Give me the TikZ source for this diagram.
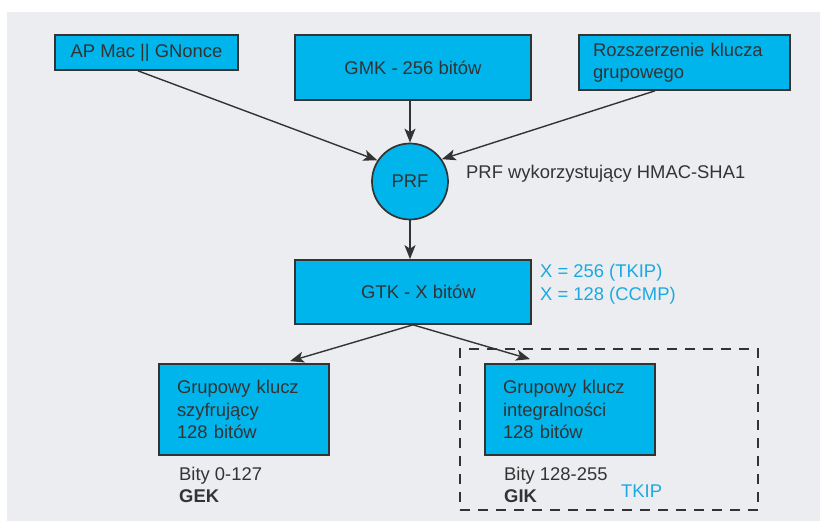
\documentclass[tikz,border=0pt]{standalone}
\usepackage{fontspec}
\setmainfont{Liberation Sans}
\usetikzlibrary{arrows.meta}

\definecolor{panel}{HTML}{ECEDF0}
\definecolor{keyfill}{HTML}{00B5EC}
\definecolor{ink}{HTML}{333333}
\definecolor{note}{HTML}{1BA9E1}

\newcommand{\diagfont}{\fontsize{18.4}{22.5}\selectfont}

\tikzset{
  keybox/.style={draw=ink, line width=1.7pt, fill=keyfill, rectangle,
    text=ink, inner sep=0pt, font=\diagfont},
  prfnode/.style={draw=ink, line width=1.7pt, fill=keyfill, circle,
    minimum size=76pt, inner sep=0pt, text=ink, font=\diagfont},
  flow/.style={draw=ink, line width=1.4pt,
    -{Stealth[length=14pt, width=11pt, inset=3.5pt]}},
  label/.style={inner sep=0pt, anchor=base west, text=ink, font=\diagfont},
  bluelabel/.style={label, text=note},
  tkipframe/.style={draw=ink, line width=1.4pt, dash pattern=on 10pt off 8pt,
    rectangle, inner sep=0pt}
}

\begin{document}
\begin{tikzpicture}[x=1pt, y=-1pt]
  \useasboundingbox (0,0) rectangle (820,521);
  \fill[panel] (7,12) rectangle (820,521);

  % input keys
  \node[keybox, minimum width=183pt, minimum height=35pt] (ap) at (146.5,52.5)
    {AP Mac || GNonce};
  \node[keybox, minimum width=236pt, minimum height=65pt] (gmk) at (413,67.5)
    {GMK - 256 bitów};
  \node[keybox, minimum width=211pt, minimum height=55pt, inner xsep=14pt,
        text width=183pt, align=left] (roz) at (684.5,62.5)
    {Rozszerzenie klucza\\grupowego};

  % pseudo-random function
  \node[prfnode] (prf) at (410,181.5) {PRF};
  \node[label] (prflbl) at (466,179) {PRF wykorzystujący HMAC-SHA1};

  % group temporal key
  \node[keybox, minimum width=236pt, minimum height=64pt] (gtk) at (413,292)
    {\hspace{11pt}GTK - X bitów};
  \node[bluelabel] (x256) at (540,278) {X = 256 (TKIP)};
  \node[bluelabel] (x128) at (540,301) {X = 128 (CCMP)};

  % TKIP frame
  \node[tkipframe, minimum width=298pt, minimum height=161pt] (tkipbox)
    at (609,429.5) {};

  % derived keys
  \node[keybox, minimum width=170pt, minimum height=91pt, inner xsep=18pt,
        text width=134pt, align=left] (gek) at (244,409.5)
    {Grupowy klucz\\szyfrujący\\128 bitów};
  \node[keybox, minimum width=170pt, minimum height=91pt, inner xsep=18pt,
        text width=134pt, align=left] (gik) at (570,409.5)
    {Grupowy klucz\\integralności\\128 bitów};

  \node[label] (gekbits) at (179,480) {Bity 0-127};
  \node[label, font=\diagfont\bfseries] (geklbl) at (179,502) {GEK};
  \node[label] (gikbits) at (504,480) {Bity 128-255};
  \node[label, font=\diagfont\bfseries] (giklbl) at (504,502) {GIK};
  \node[bluelabel] (tkiplbl) at (621,497.5) {TKIP};

  % connectors
  \draw[flow] ([xshift=-8.5pt]ap.south) -- (prf.147);
  \draw[flow] (gmk.south -| prf.north) -- (prf.north);
  \draw[flow] ([xshift=-29.5pt]roz.south) -- (prf.35);
  \draw[flow] (prf.south) -- (gtk.north -| prf.south);
  \draw[flow] (gtk.south) -- ([xshift=46pt, yshift=2pt]gek.north);
  \draw[flow] (gtk.south) -- ([xshift=-40pt, yshift=4pt]gik.north);
\end{tikzpicture}
\end{document}
